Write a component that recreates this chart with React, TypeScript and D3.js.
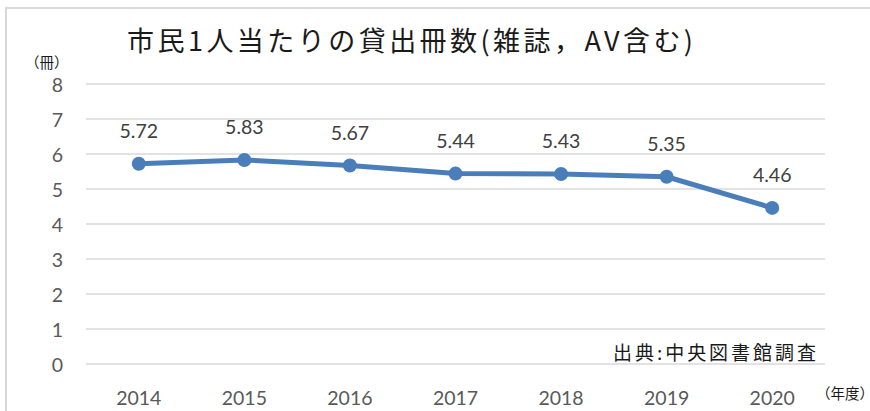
import React, { useEffect, useRef } from "react";
import * as d3 from "d3";

const years = ["2014", "2015", "2016", "2017", "2018", "2019", "2020"];
const loans = [5.72, 5.83, 5.67, 5.44, 5.43, 5.35, 4.46];
const yTicks = [0, 1, 2, 3, 4, 5, 6, 7, 8];

const W = 870;
const H = 411;

const App: React.FC = () => {
  const ref = useRef<SVGSVGElement | null>(null);

  useEffect(() => {
    if (!ref.current) return;
    const svg = d3.select(ref.current);
    svg.selectAll("*").remove();

    const jp = "'Noto Sans CJK JP', sans-serif";
    const num = "Lato, 'Open Sans', sans-serif";

    // outer chart frame (runs off right and bottom)
    svg.append("rect")
      .attr("x", 6).attr("y", 8)
      .attr("width", W).attr("height", H)
      .attr("fill", "#fff")
      .attr("stroke", "#d9d9d9")
      .attr("stroke-width", 2);

    const x = d3.scaleBand().domain(years).range([86, 825]);
    const y = d3.scaleLinear().domain([0, 8]).range([364, 84]);

    // gridlines + y labels
    yTicks.forEach(t => {
      svg.append("line")
        .attr("x1", 86).attr("x2", 825)
        .attr("y1", y(t)).attr("y2", y(t))
        .attr("stroke", "#d9d9d9")
        .attr("stroke-width", 1.3);
      svg.append("text")
        .attr("x", 63).attr("y", y(t))
        .attr("text-anchor", "end")
        .attr("dominant-baseline", "central")
        .attr("font-family", num)
        .attr("font-size", 19.5)
        .attr("fill", "#595959")
        .text(t);
    });

    // x labels
    years.forEach(yr => {
      svg.append("text")
        .attr("x", x(yr)! + x.bandwidth() / 2).attr("y", 397)
        .attr("text-anchor", "middle")
        .attr("dominant-baseline", "central")
        .attr("font-family", num)
        .attr("font-size", 19.5)
        .attr("fill", "#595959")
        .text(yr);
    });

    const cx = (i: number) => x(years[i])! + x.bandwidth() / 2;

    const line = d3.line<number>()
      .x((_, i) => cx(i))
      .y(d => y(d));

    svg.append("path")
      .attr("d", line(loans) || "")
      .attr("fill", "none")
      .attr("stroke", "#4a7ebb")
      .attr("stroke-width", 5)
      .attr("stroke-linejoin", "round");

    loans.forEach((v, i) => {
      svg.append("circle")
        .attr("cx", cx(i)).attr("cy", y(v))
        .attr("r", 7)
        .attr("fill", "#4a7ebb");
      svg.append("text")
        .attr("x", cx(i)).attr("y", y(v) - 33)
        .attr("text-anchor", "middle")
        .attr("dominant-baseline", "central")
        .attr("font-family", num)
        .attr("font-size", 19.5)
        .attr("fill", "#404040")
        .text(v.toFixed(2));
    });

    // title
    svg.append("text")
      .attr("x", 127).attr("y", 39)
      .attr("dominant-baseline", "central")
      .attr("font-family", jp)
      .attr("font-size", 27)
      .attr("fill", "#1a1a1a")
      .attr("textLength", 566)
      .attr("lengthAdjust", "spacing")
      .text("市民1人当たりの貸出冊数(雑誌，AV含む)");

    // axis unit labels
    svg.append("text")
      .attr("x", 25).attr("y", 61)
      .attr("dominant-baseline", "central")
      .attr("font-family", jp)
      .attr("font-size", 14.5)
      .attr("fill", "#1a1a1a")
      .text("（冊）");
    svg.append("text")
      .attr("x", 816).attr("y", 392)
      .attr("dominant-baseline", "central")
      .attr("font-family", jp)
      .attr("font-size", 14.5)
      .attr("fill", "#1a1a1a")
      .text("（年度）");

    // source
    svg.append("text")
      .attr("x", 613).attr("y", 351)
      .attr("dominant-baseline", "central")
      .attr("font-family", jp)
      .attr("font-size", 19)
      .attr("fill", "#1a1a1a")
      .attr("textLength", 203)
      .attr("lengthAdjust", "spacing")
      .text("出典:中央図書館調査");
  }, []);

  return (
    <div style={{ position: "fixed", left: 0, top: 0, width: W, height: H, background: "#fff" }}>
      <svg ref={ref} width={W} height={H} style={{ display: "block" }} />
    </div>
  );
};

export default App;
